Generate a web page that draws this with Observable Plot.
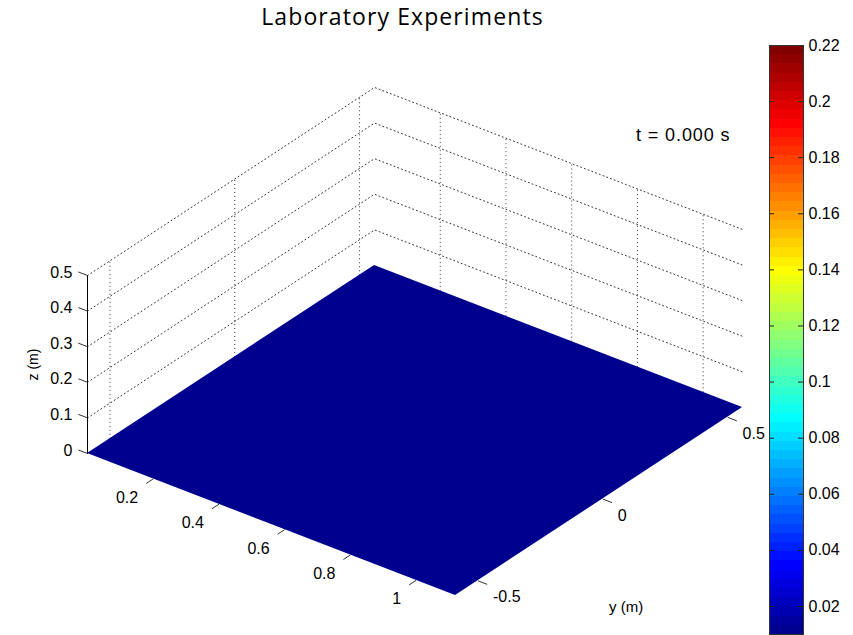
<!DOCTYPE html>
<html>
<head>
<meta charset="utf-8">
<script src="https://cdn.jsdelivr.net/npm/d3@7"></script>
<script src="https://cdn.jsdelivr.net/npm/@observablehq/plot@0.6"></script>
<style>
  html, body { margin: 0; padding: 0; background: #fff; }
  #wrap { position: relative; width: 853px; height: 635px; overflow: hidden; }
  #main, #cbar { position: absolute; top: 0; }
  #main { left: 0; }
  #cbar { left: 760px; }
  #title { position: absolute; left: 0; width: 805px; top: 5px; text-align: center;
           font-family: "Open Sans", sans-serif; font-size: 23px; letter-spacing: 1.1px; color: #000; line-height: 1; }
  #tlabel { position: absolute; left: 636px; top: 126px; font-family: "Liberation Sans", Arial, sans-serif;
            font-size: 18px; letter-spacing: 0.9px; color: #000; line-height: 1; white-space: pre; }
</style>
</head>
<body>
<div id="wrap">
  <div id="main"></div>
  <div id="cbar"></div>
  <div id="title">Laboratory Experiments</div>
  <div id="tlabel">t = 0.000 s</div>
</div>
<script>
// ---------- data ----------
const xLimits = [0, 1.12];
const yLimits = [-0.59, 0.56];
const zLimits = [0, 0.5];

const xTicks = [0.2, 0.4, 0.6, 0.8, 1];
const xTickLabels = ["0.2", "0.4", "0.6", "0.8", "1"];
const yTicks = [-0.5, 0, 0.5];
const yTickLabels = ["-0.5", "0", "0.5"];
const zTicks = [0, 0.1, 0.2, 0.3, 0.4, 0.5];
const zTickLabels = ["0", "0.1", "0.2", "0.3", "0.4", "0.5"];

// free surface at t = 0: flat, elevation 0 along the tank
const surfX = [0, 0.28, 0.56, 0.84, 1.12];
const surfZ = [0, 0, 0, 0, 0];

const cbDomain = [0.01, 0.22];
const cbTicks = [0.02, 0.04, 0.06, 0.08, 0.1, 0.12, 0.14, 0.16, 0.18, 0.2, 0.22];
const cbTickLabels = ["0.02", "0.04", "0.06", "0.08", "0.1", "0.12", "0.14", "0.16", "0.18", "0.2", "0.22"];

// ---------- MATLAB jet(64) colormap ----------
function jet(m) {
  const n = Math.ceil(m / 4);
  const u = [];
  for (let i = 1; i <= n; i++) u.push(i / n);
  for (let i = 0; i < n - 1; i++) u.push(1);
  for (let i = n; i >= 1; i--) u.push(i / n);
  const g0 = Math.ceil(n / 2) - (m % 4 === 1 ? 1 : 0);
  const J = Array.from({length: m}, () => [0, 0, 0]);
  u.forEach((v, k) => {
    const g = g0 + k + 1, r = g + n, b = g - n;
    if (g >= 1 && g <= m) J[g - 1][1] = v;
    if (r >= 1 && r <= m) J[r - 1][0] = v;
    if (b >= 1 && b <= m) J[b - 1][2] = v;
  });
  return J.map(c => d3.rgb(c[0] * 255, c[1] * 255, c[2] * 255).formatHex());
}
const jet64 = jet(64);
const cbEdges = d3.range(65).map(i => cbDomain[0] + i * (cbDomain[1] - cbDomain[0]) / 64);
const colorScale = {type: "threshold", domain: cbEdges.slice(1, 64), range: jet64};

const view = {ox: 87, oy: 453, xu: [328.6, 126.8], yu: [249.6, -163.5], zu: 356};
const P = (x, y, z) => [
  view.ox + view.xu[0] * (x - xLimits[0]) + view.yu[0] * (y - yLimits[0]),
  view.oy + view.xu[1] * (x - xLimits[0]) + view.yu[1] * (y - yLimits[0]) - view.zu * (z - zLimits[0])
];
const px = (x, y, z) => P(x, y, z)[0];
const py = (x, y, z) => P(x, y, z)[1];

const [x0, x1] = xLimits, [y0, y1] = yLimits, [z0, z1] = zLimits;
const tickLen = 0.028;

// grid lines on back walls
const zGrid = zTicks.filter(z => z > z0).flatMap((z, k) => [
  {id: k, x: x0, y: y0, z}, {id: k, x: x0, y: y1, z}, {id: k, x: x1, y: y1, z}
]);
const font = "Liberation Sans, Arial, sans-serif";

const main = Plot.plot({
  width: 853, height: 635, margin: 0,
  x: {domain: [0, 853], range: [0, 853], axis: null},
  y: {domain: [0, 635], range: [0, 635], axis: null},
  color: colorScale,
  style: {background: "transparent"},
  marks: [
    // dotted grid
    Plot.line(zGrid, {x: d => px(d.x, d.y, d.z), y: d => py(d.x, d.y, d.z), z: "id",
      stroke: "#333", strokeWidth: 1, strokeDasharray: "1,3"}),
    Plot.link(yTicks, {x1: d => px(x0, d, z0), y1: d => py(x0, d, z0), x2: d => px(x0, d, z1), y2: d => py(x0, d, z1),
      stroke: "#333", strokeWidth: 1, strokeDasharray: "1,3"}),
    Plot.link(xTicks, {x1: d => px(d, y1, z0), y1: d => py(d, y1, z0), x2: d => px(d, y1, z1), y2: d => py(d, y1, z1),
      stroke: "#333", strokeWidth: 1, strokeDasharray: "1,3"}),
    // surface
    Plot.area(surfX.map((x, i) => ({x, z: surfZ[i]})), {
      x1: d => px(d.x, y0, d.z), y1: d => py(d.x, y0, d.z),
      x2: d => px(d.x, y1, d.z), y2: d => py(d.x, y1, d.z),
      fill: d => d.z
    }),
    // z axis
    Plot.line([z0, z1], {x: d => px(x0, y0, d), y: d => py(x0, y0, d), stroke: "#000", strokeWidth: 1}),
    Plot.link(zTicks, {x1: d => px(x0, y0, d), y1: d => py(x0, y0, d), x2: d => px(x0 - tickLen, y0, d), y2: d => py(x0 - tickLen, y0, d),
      stroke: "#333", strokeWidth: 1}),
    Plot.text(zTicks, {x: d => px(x0, y0, d), y: d => py(x0, y0, d), text: (d, i) => zTickLabels[i],
      textAnchor: "end", dx: -15, dy: -3, fontSize: 16, fontFamily: font, fill: "#000"}),
    // x axis ticks
    Plot.link(xTicks, {x1: d => px(d, y0, z0), y1: d => py(d, y0, z0), x2: d => px(d, y0 - tickLen, z0), y2: d => py(d, y0 - tickLen, z0),
      stroke: "#333", strokeWidth: 1}),
    Plot.text(xTicks, {x: d => px(d, y0, z0), y: d => py(d, y0, z0), text: (d, i) => xTickLabels[i],
      textAnchor: "end", dx: -15, dy: 19, fontSize: 16, fontFamily: font, fill: "#000"}),
    // y axis ticks
    Plot.link(yTicks, {x1: d => px(x1, d, z0), y1: d => py(x1, d, z0), x2: d => px(x1 + tickLen, d, z0), y2: d => py(x1 + tickLen, d, z0),
      stroke: "#333", strokeWidth: 1}),
    Plot.text(yTicks, {x: d => px(x1, d, z0), y: d => py(x1, d, z0), text: (d, i) => yTickLabels[i],
      textAnchor: "start", dx: 15, dy: 16.5, fontSize: 16, fontFamily: font, fill: "#000"}),
    // axis labels
    Plot.text(["y (m)"], {x: () => px(x1, (y0 + y1) / 2, z0), y: () => py(x1, (y0 + y1) / 2, z0), text: d => d,
      dx: 27, dy: 106, fontSize: 15, fontFamily: font, fill: "#000"}),
    Plot.text(["z (m)"], {x: () => px(x0, y0, (z0 + z1) / 2), y: () => py(x0, y0, (z0 + z1) / 2), text: d => d,
      rotate: -90, dx: -54, dy: 0, fontSize: 14, fontFamily: font, fill: "#000"})
  ]
});
document.getElementById("main").appendChild(main);

// ---------- colorbar ----------
const bands = d3.range(64).map(i => ({y1: cbEdges[i], y2: cbEdges[i + 1], v: (cbEdges[i] + cbEdges[i + 1]) / 2}));
const cbar = Plot.plot({
  width: 93, height: 635,
  marginTop: 45, marginBottom: 1, marginLeft: 9, marginRight: 50,
  x: {axis: null},
  y: {domain: cbDomain},
  color: colorScale,
  style: {background: "transparent"},
  marks: [
    Plot.barY(bands, {y1: "y1", y2: "y2", fill: "v", shapeRendering: "crispEdges"}),
    Plot.tickY(cbTicks, {y: d => d, insetRight: 29, stroke: "#222"}),
    Plot.tickY(cbTicks, {y: d => d, insetLeft: 29, stroke: "#222"}),
    Plot.frame({stroke: "#333", strokeWidth: 1}),
    Plot.axisY({anchor: "right", ticks: cbTicks, tickSize: 0, tickPadding: 5,
      tickFormat: d => cbTickLabels[cbTicks.indexOf(d)], fontSize: 16, fontFamily: font, fill: "#000"})
  ]
});
document.getElementById("cbar").appendChild(cbar);
</script>
</body>
</html>
